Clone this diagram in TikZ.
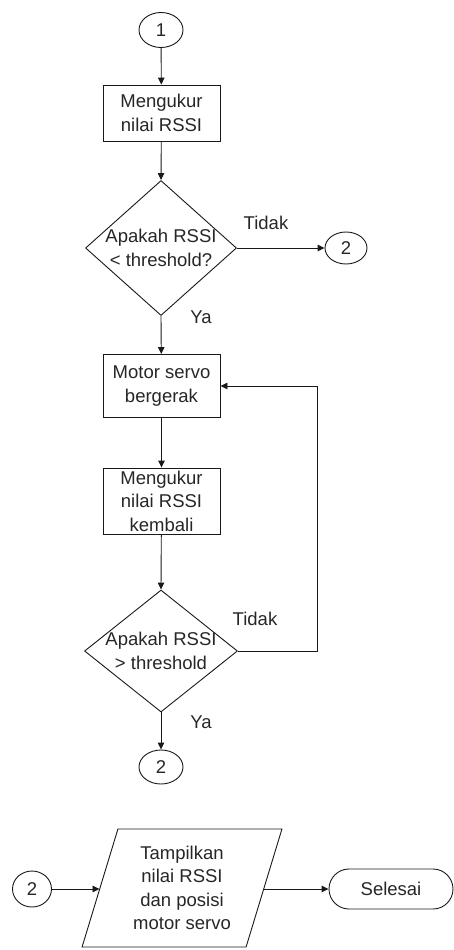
\documentclass[tikz,border=0pt]{standalone}
\usepackage{fontspec}
\setmainfont{Liberation Sans}
\usetikzlibrary{shapes.geometric,shapes.misc,arrows.meta}
\begin{document}
\begin{tikzpicture}[x=1pt,y=-1pt,
  every node/.style={font=\fontsize{18.5}{23.5}\selectfont, text=black!85, align=center, inner sep=0pt},
  flow/.style={draw=black!90, line width=0.9pt},
  arrow/.style={flow, -{Triangle[length=7pt,width=6.5pt]}},
  conn/.style={flow, ellipse, minimum width=44pt, minimum height=35pt},
  process/.style={flow, rectangle, minimum width=117pt},
  decision/.style={flow, diamond},
  io/.style={flow, trapezium, trapezium left angle=72, trapezium right angle=108,
             trapezium stretches=true, minimum width=200pt, minimum height=118pt},
  terminal/.style={flow, rounded rectangle, minimum width=124pt, minimum height=40pt}]

\useasboundingbox (0,0) rectangle (454,950);

% main column
\node[conn] (c1) at (161,30) {1};
\node[process, minimum height=56pt] (b1) at (161.5,113) {Mengukur\\nilai RSSI};
\node[decision, minimum width=151pt, minimum height=135pt] (d1) at (161,248) {};
\node at (d1) {Apakah RSSI\\< threshold?};
\node[conn, minimum width=42pt, minimum height=32pt] (c2r) at (346,248) {2};
\node (t1) at (266,223) {Tidak};
\node (y1) at (201,317) {Ya};

\node[process, minimum height=63pt] (b2) at (161.5,386) {Motor servo\\bergerak};
\node[process, minimum height=66pt] (b3) at (161.5,501) {Mengukur\\nilai RSSI\\kembali};
\node[decision, minimum width=153pt, minimum height=122pt] (d2) at (161,651) {};
\node at (d2) {Apakah RSSI\\> threshold};
\node (t2) at (255,619) {Tidak};
\node (y2) at (201,722) {Ya};
\node[conn, minimum height=34pt] (c2b) at (161,767) {2};

% output row
\node[conn, minimum width=39pt, minimum height=36pt] (c3) at (32,889) {2};
\node[io] (out) at (182,888) {Tampilkan\\nilai RSSI\\dan posisi\\motor servo};
\node[terminal] (end) at (391,889) {Selesai};

% connectors
\draw[arrow] (c1) -- (b1);
\draw[arrow] (b1) -- (d1.north);
\draw[arrow] (d1.east) -- (c2r);
\draw[arrow] (d1.south) -- (b2);
\draw[arrow] (b2) -- (b3);
\draw[arrow] (b3) -- (d2.north);
\draw[arrow] (d2.east) -- ++(79,0) |- (b2.east);
\draw[arrow] (d2.south) -- (c2b);
\draw[arrow] (c3) -- (c3 -| out.west);
\draw[arrow] (out.east |- end) -- (end);
\end{tikzpicture}
\end{document}
